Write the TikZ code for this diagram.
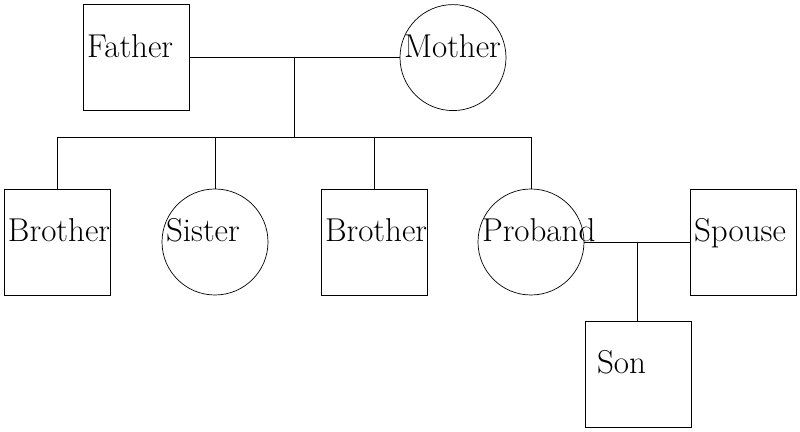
\documentclass[tikz,border=0pt]{standalone}
\usetikzlibrary{positioning,calc}
\tikzset{
  male/.style={draw,rectangle,line width=0.5pt,minimum size=2.65cm,inner sep=0pt,font=\fontsize{23.5}{28}\selectfont,text width=2.45cm,align=left,text height=0.6em,text depth=0.6em},
  female/.style={draw,circle,line width=0.5pt,minimum size=2.65cm,inner sep=0pt,font=\fontsize{23.5}{28}\selectfont,text width=2.45cm,align=left,text height=0.6em,text depth=0.6em},
  tie/.style={draw,line width=0.5pt}
}
\begin{document}
\begin{tikzpicture}[x=1cm,y=1cm]
\path[use as bounding box] (0,0) rectangle (20,10.8);
% parents
\node[male] (father) at (3.4,9.36) {Father};
\node[female] (mother) at (11.325,9.36) {Mother};
\coordinate (mate1) at ($(father.east)!0.5!(mother.west)$);
\coordinate (sib) at (7.35,7.375);
\draw[tie] (father.east) -- (mother.west);
\draw[tie] (mate1) -- (mate1 |- sib);
% children
\node[male] (bro1) at (1.425,4.75) {Brother};
\node[female] (sister) at (5.375,4.75) {Sister};
\node[male] (bro2) at (9.35,4.75) {Brother};
\node[female] (proband) at (13.275,4.75) {Proband};
\node[male] (spouse) at (18.575,4.75) {Spouse};
\draw[tie] (bro1.north) -- (bro1.north |- sib) -- (proband.north |- sib) -- (proband.north);
\foreach \n in {sister,bro2}{\draw[tie] (\n.north) -- (\n.north |- sib);}
% next generation
\draw[tie] (proband.east) -- (spouse.west);
\coordinate (mate2) at ($(proband.east)!0.5!(spouse.west)$);
\node[male] (son) at (15.95,1.45) {\hspace*{0.2cm}Son};
\draw[tie] (mate2) -- (mate2 |- son.north);
\end{tikzpicture}
\end{document}
